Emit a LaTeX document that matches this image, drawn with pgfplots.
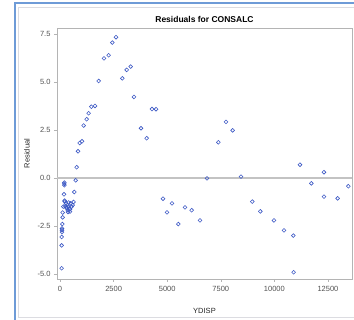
\documentclass[border=0pt]{standalone}
\usepackage{pgfplots}
\pgfplotsset{compat=1.18}
\usepackage{fontspec}
\setmainfont{Liberation Sans}
\definecolor{mk}{RGB}{60,88,196}
\definecolor{frameblue}{RGB}{110,155,215}
\definecolor{axgray}{RGB}{180,180,180}
\definecolor{tickgray}{RGB}{80,80,80}
\begin{document}
\begin{tikzpicture}[x=1pt,y=1pt]
\draw[draw={rgb,255:red,220;green,220;blue,225}, line width=0.8pt] (18,3) rectangle (360,313);
\draw[frameblue, line width=2pt] (15,0) -- (15,317) -- (360,317);
\begin{axis}[
  at={(57pt,41pt)}, anchor=south west,
  scale only axis, width=295pt, height=251pt,
  xmin=-140, xmax=13620, ymin=-5.26, ymax=7.81,
  xtick={0,2500,5000,7500,10000,12500},
  ytick={-5,-2.5,0,2.5,5,7.5},
  scaled x ticks=false, scaled y ticks=false,
  /pgf/number format/assume math mode=true,
  /pgf/number format/1000 sep={},
  xticklabel={\pgfmathprintnumber[fixed,precision=0,1000 sep={},assume math mode=true]{\tick}},
  yticklabel style={/pgf/number format/fixed, /pgf/number format/fixed zerofill, /pgf/number format/precision=1, font=\fontsize{7.5}{8}\selectfont, text=tickgray},
  xticklabel style={font=\fontsize{7.5}{8}\selectfont, text=tickgray, yshift=-1pt},
  tick align=outside, major tick length=3pt,
  tick style={axgray, line width=0.5pt},
  axis line style={axgray, line width=0.8pt},
  xtick pos=bottom, ytick pos=left,
  xlabel={YDISP}, ylabel={Residual},
  label style={font=\fontsize{7.5}{8}\selectfont, text=black!85},
  xlabel style={yshift=-10pt},
  ylabel style={yshift=1pt},
  clip=false,
]
\draw[axgray!80, line width=1.2pt] (axis cs:-140,0) -- (axis cs:13620,0);
\addplot[only marks, mark=o, mark size=1.9pt, mk, mark options={line width=0.6pt}] coordinates {
(77,-4.70) (77,-3.51) (77,-3.07) (93,-2.82) (93,-2.72) (93,-2.63) (109,-2.40)
(124,-2.05) (124,-1.80) (155,-1.49) (187,-0.85) (200,-0.24) (200,-0.31) (205,-0.38)
(218,-1.18) (218,-1.23) (249,-1.46) (280,-1.32) (295,-1.53) (311,-1.58) (342,-1.41)
(358,-1.67) (373,-1.77) (389,-1.49) (404,-1.28) (436,-1.58) (466,-1.75) (466,-1.63)
(498,-1.32) (544,-1.49) (591,-1.41) (630,-1.25) (667,-0.73) (732,-0.12)
(778,0.56) (840,1.39) (918,1.82) (1026,1.91) (1104,2.73) (1244,3.06) (1337,3.37)
(1461,3.71) (1632,3.75) (1804,5.05) (2052,6.23) (2270,6.39) (2440,7.05) (2612,7.33)
(2907,5.19) (3110,5.63) (3296,5.80) (3451,4.22) (3778,2.59) (4043,2.07) (4291,3.59)
(4478,3.58) (4804,-1.08) (4991,-1.79) (5224,-1.32) (5518,-2.40) (5830,-1.53)
(6142,-1.68) (6530,-2.21) (6856,-0.02) (7385,1.86) (7743,2.92) (8053,2.48)
(8442,0.07) (8970,-1.23) (9344,-1.74) (9981,-2.21) (10448,-2.73) (10883,-3.00)
(10898,-4.91) (11194,0.69) (11723,-0.28) (12313,0.30) (12313,-0.97) (12951,-1.06)
(13449,-0.43)
};
\end{axis}
\node[font=\bfseries\fontsize{8.5}{9}\selectfont] at (204.5,301) {Residuals for CONSALC};
\pgfresetboundingbox
\useasboundingbox (0,0) rectangle (354,320);
\end{tikzpicture}
\end{document}
